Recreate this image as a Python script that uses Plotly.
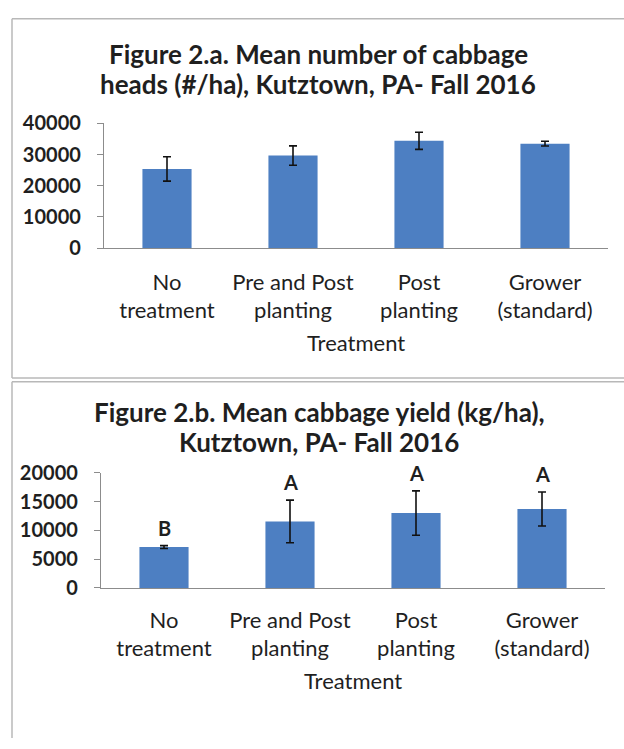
import plotly.graph_objects as go

W, H = 624, 749

categories = ["No<br>treatment", "Pre and Post<br>planting", "Post<br>planting", "Grower<br>(standard)"]

heads_mean = [25400, 29700, 34400, 33500]
heads_err = [3900, 3100, 2750, 750]

yield_mean = [7100, 11550, 13000, 13700]
yield_err = [250, 3700, 3850, 2950]
yield_letters = ["B", "A", "A", "A"]

heads_ticks = [0, 10000, 20000, 30000, 40000]
heads_ticktext = ["0", "10000", "20000", "30000", "40000"]
yield_ticks = [0, 5000, 10000, 15000, 20000]
yield_ticktext = ["0", "5000", "10000", "15000", "20000"]

title_a = ["Figure 2.a. Mean number of cabbage", "heads (#/ha), Kutztown, PA- Fall 2016"]
title_b = ["Figure 2.b. Mean cabbage yield (kg/ha),", "Kutztown, PA- Fall 2016"]
x_title = "Treatment"

BAR = "#4d7fc2"
TXT = "#1f1f1f"
AX = "#8c8c8c"
BORDER = "#b8b8b8"
FONT = "Lato"


def px(x):
    return x / W


def py(y):
    return 1 - y / H


fig = go.Figure()

fig.add_trace(go.Bar(
    x=categories, y=heads_mean, marker=dict(color=BAR, line=dict(width=0)),
    error_y=dict(type="data", array=heads_err, color="#111111", thickness=1.6, width=4),
    xaxis="x", yaxis="y", showlegend=False, hoverinfo="skip"))

fig.add_trace(go.Bar(
    x=categories, y=yield_mean, marker=dict(color=BAR, line=dict(width=0)),
    error_y=dict(type="data", array=yield_err, color="#111111", thickness=1.6, width=4),
    xaxis="x2", yaxis="y2", showlegend=False, hoverinfo="skip"))

axis_common = dict(showgrid=False, zeroline=False, showline=True, linecolor=AX, linewidth=1.3)
xfont = dict(size=22, family=FONT, color=TXT)
yfont = dict(size=20, family=FONT, color=TXT, weight="bold")

fig.update_layout(
    width=W, height=H,
    margin=dict(l=0, r=0, t=0, b=0),
    paper_bgcolor="white", plot_bgcolor="white",
    bargap=0.61,
    font=dict(family=FONT, color=TXT),
    xaxis=dict(domain=[px(104), px(608)], anchor="y", ticks="", ticklabelstandoff=14,
               tickfont=xfont, **axis_common),
    yaxis=dict(domain=[py(243), py(114)], anchor="x", range=[0, 40000], tickvals=heads_ticks,
               ticktext=heads_ticktext, ticks="outside", ticklen=6, tickcolor=AX, tickwidth=1.3,
               ticklabelstandoff=12, tickfont=yfont, **axis_common),
    xaxis2=dict(domain=[px(101), px(605)], anchor="y2", ticks="", ticklabelstandoff=12,
                tickfont=xfont, **axis_common),
    yaxis2=dict(domain=[py(594), py(475)], anchor="x2", range=[0, 20000], tickvals=yield_ticks,
                ticktext=yield_ticktext, ticks="outside", ticklen=6, tickcolor=AX, tickwidth=1.3,
                ticklabelstandoff=12, tickfont=yfont, **axis_common),
)

annotations = []
for i, line in enumerate(title_a):
    annotations.append(dict(text="<b>" + line + "</b>", xref="paper", yref="paper", x=px(318),
                            y=py([42, 73][i]), showarrow=False, xanchor="center", yanchor="middle",
                            font=dict(size=26, family=FONT, color=TXT)))
for i, line in enumerate(title_b):
    annotations.append(dict(text="<b>" + line + "</b>", xref="paper", yref="paper", x=px(319),
                            y=py([412, 443][i]), showarrow=False, xanchor="center", yanchor="middle",
                            font=dict(size=26, family=FONT, color=TXT)))
annotations.append(dict(text=x_title, xref="paper", yref="paper", x=px(356), y=py(340),
                        showarrow=False, xanchor="center", yanchor="middle", font=xfont))
annotations.append(dict(text=x_title, xref="paper", yref="paper", x=px(353), y=py(690),
                        showarrow=False, xanchor="center", yanchor="middle", font=xfont))
for c, m, e, L in zip(categories, yield_mean, yield_err, yield_letters):
    annotations.append(dict(text="<b>" + L + "</b>", x=c, y=m + e, xref="x2", yref="y2",
                            showarrow=False, xanchor="center", yanchor="bottom", yshift=4,
                            font=dict(size=20, family=FONT, color=TXT)))

fig.update_layout(annotations=annotations)


def hline(y):
    fig.add_shape(type="line", xref="paper", yref="paper", x0=px(12), x1=1, y0=py(y), y1=py(y),
                  line=dict(color=BORDER, width=1.5), layer="below")


def vline(y0, y1):
    fig.add_shape(type="line", xref="paper", yref="paper", x0=px(12), x1=px(12), y0=py(y0), y1=py(y1),
                  line=dict(color=BORDER, width=1.5), layer="below")


hline(6)
hline(377)
vline(6, 377)
hline(381)
vline(381, 749)

fig.write_html("out.html", config={"displayModeBar": False},
               post_script="document.body.style.margin='0';document.body.style.overflow='hidden';")
